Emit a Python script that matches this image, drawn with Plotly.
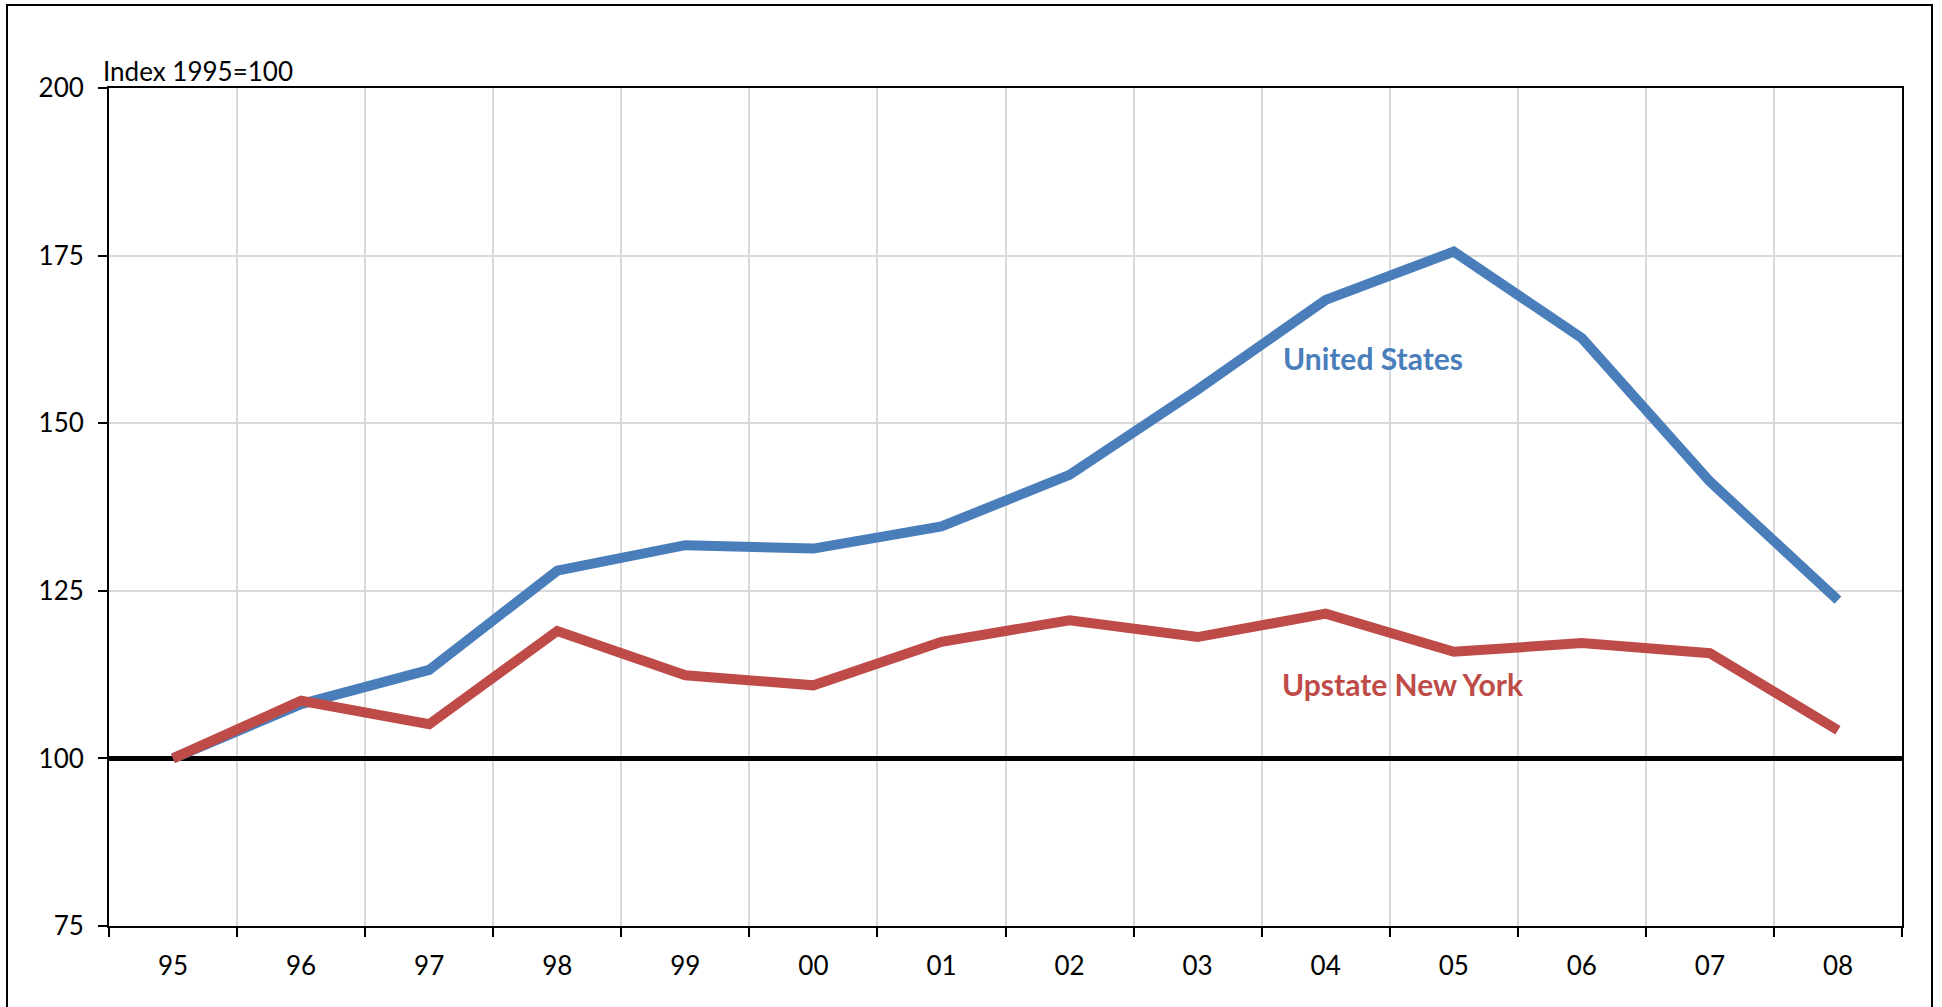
import plotly.graph_objects as go

# Year labels (two-digit) and index values, 1995 = 100
years = ["95", "96", "97", "98", "99", "00", "01", "02", "03", "04", "05", "06", "07", "08"]
united_states = [100, 108.1, 113.2, 128.0, 131.8, 131.3, 134.6, 142.3, 155.0, 168.4, 175.6, 162.7, 141.3, 123.6]
upstate_ny = [100, 108.6, 105.1, 119.0, 112.4, 110.9, 117.4, 120.6, 118.1, 121.6, 115.9, 117.2, 115.7, 104.2]
y_ticks = [75, 100, 125, 150, 175, 200]
base_index = 100

BLUE = "#4A7EBB"
RED = "#BE4B48"
FONT = "Lato"

W, H = 1942, 1007
ML, MR, MT, MB = 109, 40, 88, 81
PW = W - ML - MR
PH = H - MT - MB

# Years sit at integer positions; grid and tick marks fall on the boundaries between them
pos = list(range(len(years)))
x_lo, x_hi = -0.5, len(years) - 0.5
boundaries = [i - 0.5 for i in range(len(years) + 1)]

fig = go.Figure()

# Baseline at 100 across the full plot width, under the series
fig.add_trace(go.Scatter(x=[x_lo, x_hi + 0.02], y=[base_index, base_index], mode="lines",
                         line=dict(color="black", width=5), hoverinfo="skip", cliponaxis=False))

fig.add_trace(go.Scatter(x=pos, y=united_states, mode="lines", name="United States",
                         line=dict(color=BLUE, width=10), text=years,
                         hovertemplate="%{text}: %{y}<extra>United States</extra>"))
fig.add_trace(go.Scatter(x=pos, y=upstate_ny, mode="lines", name="Upstate New York",
                         line=dict(color=RED, width=10), text=years,
                         hovertemplate="%{text}: %{y}<extra>Upstate New York</extra>"))

# Series labels
fig.add_annotation(text="<b>United States</b>", xref="paper", yref="paper",
                   x=(1281 - ML) / PW, y=(MT + PH - 358) / PH, xanchor="left", yanchor="middle",
                   showarrow=False, font=dict(family=FONT, size=30, color=BLUE))
fig.add_annotation(text="<b>Upstate New York</b>", xref="paper", yref="paper",
                   x=(1280 - ML) / PW, y=(MT + PH - 684) / PH, xanchor="left", yanchor="middle",
                   showarrow=False, font=dict(family=FONT, size=30, color=RED))

# Axis caption
fig.add_annotation(text="Index 1995=100", xref="paper", yref="paper",
                   x=(101 - ML) / PW, y=1 + (MT - 71) / PH, xanchor="left", yanchor="middle",
                   showarrow=False, font=dict(family=FONT, size=26, color="black"))

# Outer frame
fig.add_shape(type="rect", xref="paper", yref="paper",
              x0=(7 - ML) / PW, x1=(1932 - ML) / PW,
              y0=(MT + PH - 1015) / PH, y1=(MT + PH - 5) / PH,
              line=dict(color="black", width=2), fillcolor="rgba(0,0,0,0)", layer="below")

fig.update_layout(
    width=W, height=H,
    margin=dict(l=ML, r=MR, t=MT, b=MB),
    paper_bgcolor="white", plot_bgcolor="white",
    showlegend=False,
    font=dict(family=FONT, size=26, color="black"),
)

fig.update_xaxes(range=[x_lo, x_hi], tickvals=pos, ticktext=years, ticks="",
                 showgrid=False, zeroline=False,
                 minor=dict(tickvals=boundaries, showgrid=True, gridcolor="#D9D9D9", gridwidth=2,
                            ticks="outside", ticklen=9, tickwidth=2, tickcolor="black"),
                 showline=True, linecolor="black", linewidth=2, mirror=True,
                 ticklabelstandoff=16, tickfont=dict(family=FONT, size=26, color="black"))

fig.update_yaxes(range=[75, 200], tickvals=y_ticks, ticktext=[str(v) for v in y_ticks],
                 showgrid=True, gridcolor="#D9D9D9", gridwidth=2, zeroline=False,
                 showline=True, linecolor="black", linewidth=2, mirror=True,
                 ticks="outside", ticklen=9, tickwidth=2, tickcolor="black",
                 ticklabelstandoff=9, tickfont=dict(family=FONT, size=26, color="black"))

fig.write_html("out.html")
